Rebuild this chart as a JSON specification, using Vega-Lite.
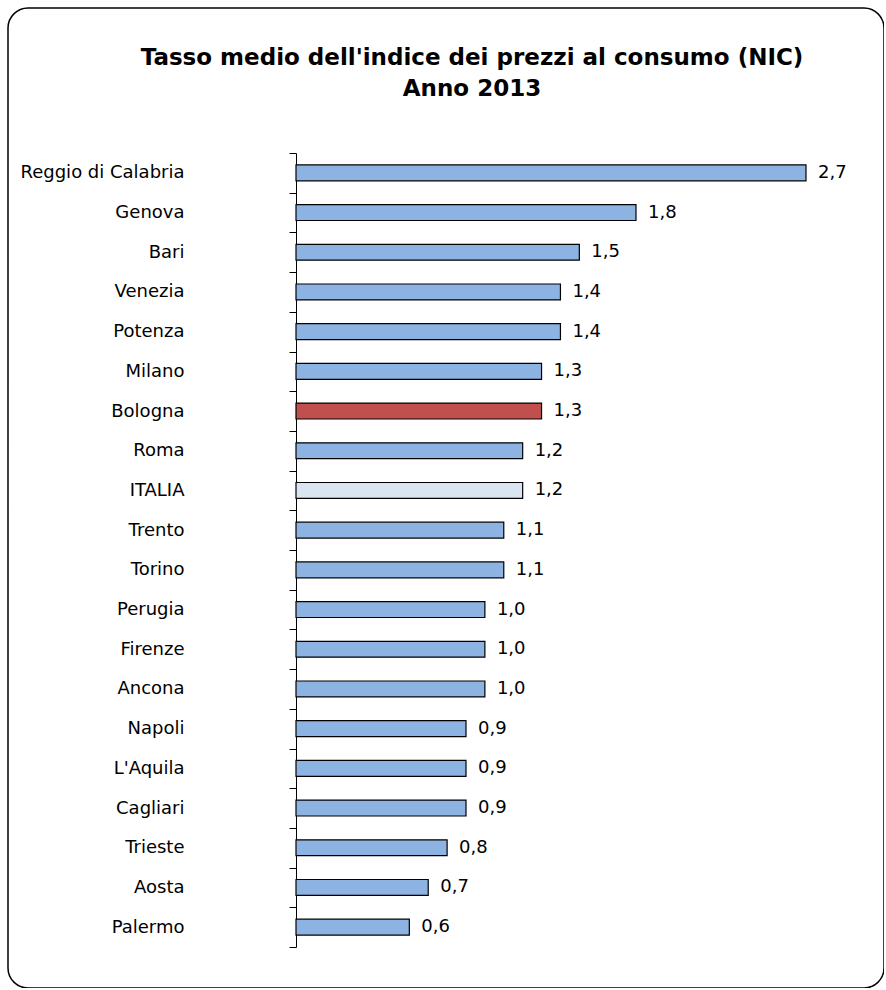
{
  "$schema": "https://vega.github.io/schema/vega-lite/v6.json",
  "autosize": "none",
  "padding": {"left": 8, "top": 8, "right": 0, "bottom": 0},
  "width": 876,
  "height": 980,
  "background": "white",
  "title": {
    "text": ["Tasso medio dell'indice  dei prezzi al consumo (NIC)", "Anno 2013"],
    "anchor": "middle",
    "frame": "group",
    "font": "DejaVu Sans",
    "fontSize": 23,
    "fontWeight": "bold",
    "color": "#000",
    "lineHeight": 31,
    "baseline": "top",
    "dx": 26,
    "dy": 106
  },
  "config": {
    "locale": {"number": {"decimal": ",", "thousands": ".", "grouping": [3], "currency": ["", " €"]}},
    "view": {"stroke": "#000", "strokeWidth": 1.5, "cornerRadius": 20, "fill": "white"},
    "font": "DejaVu Sans"
  },
  "data": {
    "values": [
      {"citta": "Reggio di Calabria", "valore": 2.7, "tipo": "città"},
      {"citta": "Genova", "valore": 1.8, "tipo": "città"},
      {"citta": "Bari", "valore": 1.5, "tipo": "città"},
      {"citta": "Venezia", "valore": 1.4, "tipo": "città"},
      {"citta": "Potenza", "valore": 1.4, "tipo": "città"},
      {"citta": "Milano", "valore": 1.3, "tipo": "città"},
      {"citta": "Bologna", "valore": 1.3, "tipo": "Bologna"},
      {"citta": "Roma", "valore": 1.2, "tipo": "città"},
      {"citta": "ITALIA", "valore": 1.2, "tipo": "Italia"},
      {"citta": "Trento", "valore": 1.1, "tipo": "città"},
      {"citta": "Torino", "valore": 1.1, "tipo": "città"},
      {"citta": "Perugia", "valore": 1.0, "tipo": "città"},
      {"citta": "Firenze", "valore": 1.0, "tipo": "città"},
      {"citta": "Ancona", "valore": 1.0, "tipo": "città"},
      {"citta": "Napoli", "valore": 0.9, "tipo": "città"},
      {"citta": "L'Aquila", "valore": 0.9, "tipo": "città"},
      {"citta": "Cagliari", "valore": 0.9, "tipo": "città"},
      {"citta": "Trieste", "valore": 0.8, "tipo": "città"},
      {"citta": "Aosta", "valore": 0.7, "tipo": "città"},
      {"citta": "Palermo", "valore": 0.6, "tipo": "città"}
    ]
  },
  "encoding": {
    "y": {
      "field": "citta",
      "type": "nominal",
      "sort": null,
      "scale": {"range": [145, 939], "paddingInner": 0, "paddingOuter": 0},
      "axis": {
        "title": null,
        "orient": "left",
        "offset": -288,
        "domainColor": "#000",
        "domainWidth": 1,
        "tickColor": "#000",
        "tickWidth": 1,
        "tickSize": 7,
        "tickBand": "extent",
        "labelFont": "DejaVu Sans",
        "labelFontSize": 18,
        "labelColor": "#000",
        "labelPadding": 105,
        "labelBaseline": "middle"
      }
    },
    "x": {
      "field": "valore",
      "type": "quantitative",
      "scale": {"domain": [0, 2.7], "range": [288, 798], "nice": false},
      "axis": null
    }
  },
  "layer": [
    {
      "mark": {"type": "bar", "stroke": "#000", "strokeWidth": 1.2, "height": {"band": 0.4}},
      "encoding": {
        "color": {
          "field": "tipo",
          "type": "nominal",
          "scale": {"domain": ["città", "Bologna", "Italia"], "range": ["#8DB3E2", "#C0504D", "#DBE5F1"]},
          "legend": null
        }
      }
    },
    {
      "mark": {"type": "text", "align": "left", "baseline": "middle", "dx": 12, "font": "DejaVu Sans", "fontSize": 18, "color": "#000"},
      "encoding": {
        "text": {"field": "valore", "type": "quantitative", "format": ".1f"}
      }
    }
  ]
}
